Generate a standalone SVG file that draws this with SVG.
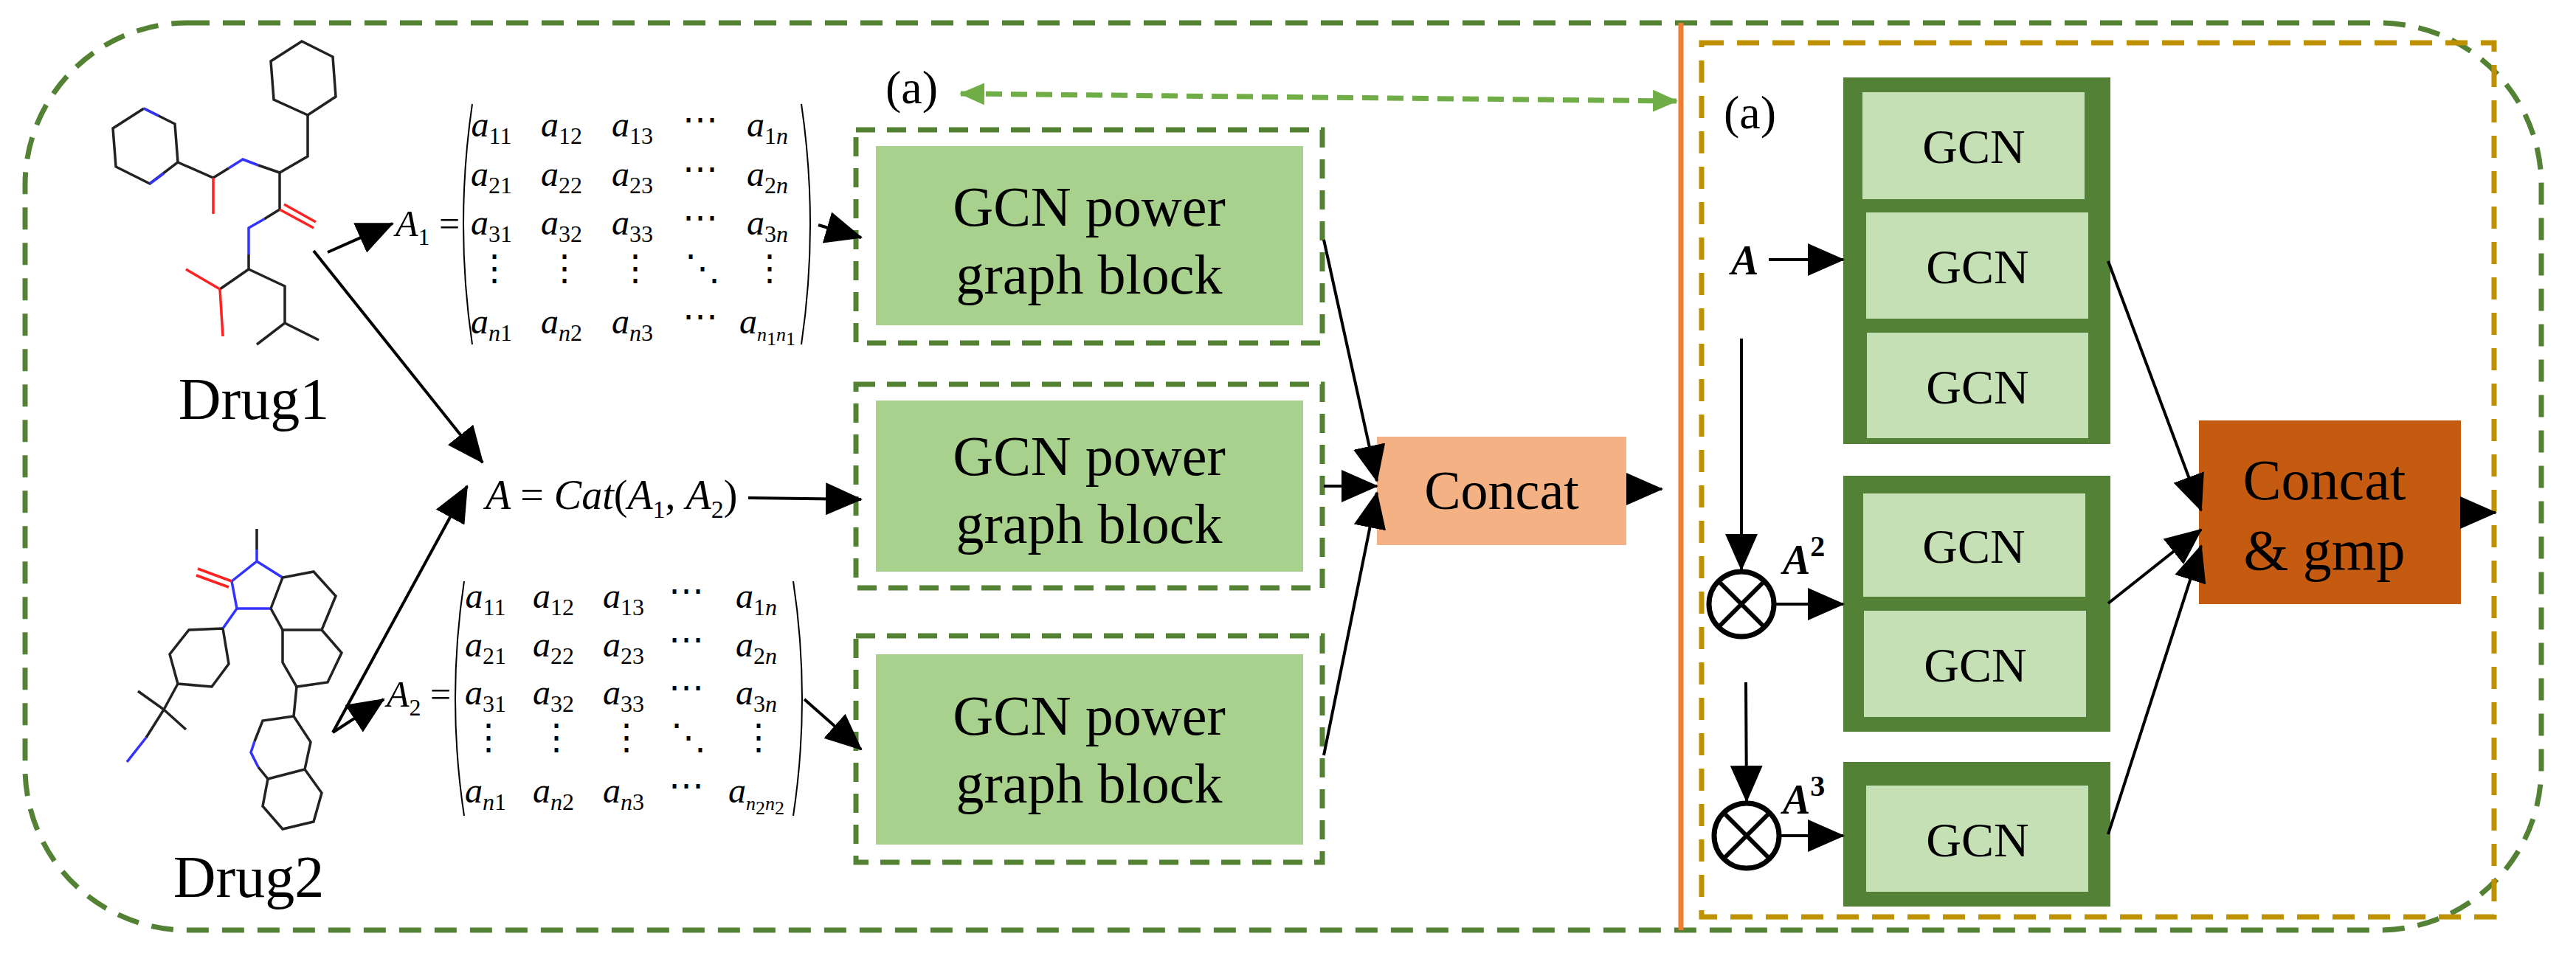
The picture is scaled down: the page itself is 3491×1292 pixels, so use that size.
<svg xmlns="http://www.w3.org/2000/svg" width="3491" height="1292" viewBox="0 0 3491 1292">
<style>
.serif{font-family:"Liberation Serif","Times New Roman",serif;fill:#000}
.it{font-style:italic}
.mol{stroke:#222;stroke-width:3.5;fill:none}
.n{stroke:#3333ff;stroke-width:3.5;fill:none}
.o{stroke:#ff2222;stroke-width:3.5;fill:none}
.dbl{stroke:#548235;stroke-width:7;fill:none;stroke-dasharray:26 16}
.ln{stroke:#000;stroke-width:4;fill:none}
.gcn{fill:#c5e0b4}
.dk{fill:#538135}
</style>
<defs>
<marker id="ah" markerUnits="userSpaceOnUse" markerWidth="50" markerHeight="44" refX="48" refY="22" orient="auto"><path d="M0,0 L50,22 L0,44 Z" fill="#000"/></marker>
<marker id="gh" markerUnits="userSpaceOnUse" markerWidth="34" markerHeight="30" refX="32" refY="15" orient="auto-start-reverse"><path d="M0,0 L34,15 L0,30 Z" fill="#70ad47"/></marker>
</defs>
<rect x="34" y="31" width="3410" height="1230" rx="220" fill="none" stroke="#548235" stroke-width="7" stroke-dasharray="30 18"/>
<line x1="2278" y1="31" x2="2278" y2="1261" stroke="#ed7d31" stroke-width="7"/>
<rect x="2306" y="58" width="1074" height="1185" fill="none" stroke="#bf9000" stroke-width="7" stroke-dasharray="30 18"/>

<g id="drug1">
<polyline class="mol" points="195,147 237,168 241,220 203,249 157,226 153,174 195,147"/>
<line class="n" x1="195" y1="147" x2="215" y2="157"/><line class="n" x1="203" y1="249" x2="222" y2="235"/>
<polyline class="mol" points="241,220 289,241 310,228"/>
<polyline class="n" points="310,228 329,216 350,224"/>
<polyline class="mol" points="350,224 379,234 417,212 417,156"/>
<line class="o" x1="289" y1="241" x2="289" y2="290"/>
<polyline class="mol" points="417,156 455,131 451,77 409,56 367,83 371,135 417,156"/>
<polyline class="mol" points="379,234 379,284 358,297"/>
<polyline class="n" points="358,297 337,309 337,345"/>
<polyline class="mol" points="337,345 337,365 298,392"/>
<line class="o" x1="379" y1="284" x2="425" y2="309"/><line class="o" x1="385" y1="277" x2="428" y2="301"/>
<line class="o" x1="298" y1="392" x2="252" y2="365"/><line class="o" x1="298" y1="392" x2="302" y2="456"/>
<polyline class="mol" points="337,365 386,388 386,438 348,467"/><line class="mol" x1="386" y1="438" x2="432" y2="461"/>
<text class="serif" x="344" y="568" font-size="80" text-anchor="middle">Drug1</text>
</g>

<g id="drug2">
<line class="mol" x1="348" y1="717" x2="348" y2="745"/>
<polyline class="n" points="348,745 348,761 314,788"/><polyline class="n" points="314,788 321,825 367,825"/><line class="n" x1="348" y1="761" x2="383" y2="783"/>
<line class="o" x1="314" y1="788" x2="268" y2="771"/><line class="o" x1="310" y1="796" x2="266" y2="780"/>
<polyline class="mol" points="367,825 383,783 425,775 455,808 436,854 383,854 367,825"/>
<polyline class="mol" points="436,854 463,885 444,925 402,931 383,898 383,854"/>
<line class="n" x1="321" y1="825" x2="302" y2="852"/>
<polyline class="mol" points="302,852 310,900 287,931 241,927 230,887 256,854 302,852"/>
<polyline class="mol" points="241,927 222,962 187,937"/><line class="mol" x1="222" y1="962" x2="252" y2="989"/>
<line class="mol" x1="222" y1="962" x2="198" y2="1000"/><line class="n" x1="198" y1="1000" x2="172" y2="1033"/>
<polyline class="mol" points="402,931 398,971 421,1006 413,1043 363,1056"/>
<polyline class="mol" points="398,971 356,977 345,1005"/><polyline class="n" points="345,1005 340,1020 350,1040"/>
<polyline class="mol" points="350,1040 363,1056 356,1093 383,1124 425,1114 436,1075 413,1043"/>
<text class="serif" x="337" y="1216" font-size="80" text-anchor="middle">Drug2</text>
</g>

<g id="matrix1" class="serif it" font-size="48">
<path d="M640,141 Q616,304 640,467" fill="none" stroke="#000" stroke-width="2"/>
<path d="M1086,141 Q1110,304 1086,467" fill="none" stroke="#000" stroke-width="2"/>
<text x="536" y="320" font-size="50">A<tspan font-size="32" font-style="normal" dy="12">1</tspan><tspan dy="-12" font-style="normal" font-size="50"> =</tspan></text>
<g text-anchor="middle">
<text x="666" y="185">a<tspan font-size="32" font-style="normal" dy="10">11</tspan></text><text x="761" y="185">a<tspan font-size="32" font-style="normal" dy="10">12</tspan></text><text x="857" y="185">a<tspan font-size="32" font-style="normal" dy="10">13</tspan></text><text x="949" y="178" font-style="normal">⋯</text><text x="1040" y="185">a<tspan font-size="32" dy="10"><tspan font-style="normal">1</tspan>n</tspan></text>
<text x="666" y="252">a<tspan font-size="32" font-style="normal" dy="10">21</tspan></text><text x="761" y="252">a<tspan font-size="32" font-style="normal" dy="10">22</tspan></text><text x="857" y="252">a<tspan font-size="32" font-style="normal" dy="10">23</tspan></text><text x="949" y="245" font-style="normal">⋯</text><text x="1040" y="252">a<tspan font-size="32" dy="10"><tspan font-style="normal">2</tspan>n</tspan></text>
<text x="666" y="318">a<tspan font-size="32" font-style="normal" dy="10">31</tspan></text><text x="761" y="318">a<tspan font-size="32" font-style="normal" dy="10">32</tspan></text><text x="857" y="318">a<tspan font-size="32" font-style="normal" dy="10">33</tspan></text><text x="949" y="311" font-style="normal">⋯</text><text x="1040" y="318">a<tspan font-size="32" dy="10"><tspan font-style="normal">3</tspan>n</tspan></text>
<text x="670" y="380" font-style="normal">⋮</text><text x="765" y="380" font-style="normal">⋮</text><text x="861" y="380" font-style="normal">⋮</text><text x="952" y="380" font-style="normal">⋱</text><text x="1043" y="380" font-style="normal">⋮</text>
<text x="666" y="452">a<tspan font-size="32" dy="10">n<tspan font-style="normal">1</tspan></tspan></text><text x="761" y="452">a<tspan font-size="32" dy="10">n<tspan font-style="normal">2</tspan></tspan></text><text x="857" y="452">a<tspan font-size="32" dy="10">n<tspan font-style="normal">3</tspan></tspan></text><text x="949" y="445" font-style="normal">⋯</text><text x="1040" y="452">a<tspan font-size="26" dy="10">n<tspan font-style="normal" dy="6">1</tspan><tspan dy="-6">n</tspan><tspan font-style="normal" dy="6">1</tspan></tspan></text>
</g>
</g>

<g id="catA" class="serif it">
<text x="658" y="690" font-size="56">A <tspan font-style="normal">=</tspan> Cat<tspan font-style="normal">(</tspan>A<tspan font-size="34" font-style="normal" dy="12">1</tspan><tspan dy="-12" font-style="normal">, </tspan>A<tspan font-size="34" font-style="normal" dy="12">2</tspan><tspan dy="-12" font-style="normal">)</tspan></text>
</g>

<g id="matrix2" class="serif it" font-size="48">
<path d="M629,788 Q605,947 629,1106" fill="none" stroke="#000" stroke-width="2"/>
<path d="M1075,788 Q1099,947 1075,1106" fill="none" stroke="#000" stroke-width="2"/>
<text x="524" y="958" font-size="50">A<tspan font-size="32" font-style="normal" dy="12">2</tspan><tspan dy="-12" font-style="normal" font-size="50"> =</tspan></text>
<g text-anchor="middle">
<text x="658" y="824">a<tspan font-size="32" font-style="normal" dy="10">11</tspan></text><text x="750" y="824">a<tspan font-size="32" font-style="normal" dy="10">12</tspan></text><text x="845" y="824">a<tspan font-size="32" font-style="normal" dy="10">13</tspan></text><text x="930" y="817" font-style="normal">⋯</text><text x="1025" y="824">a<tspan font-size="32" dy="10"><tspan font-style="normal">1</tspan>n</tspan></text>
<text x="658" y="890">a<tspan font-size="32" font-style="normal" dy="10">21</tspan></text><text x="750" y="890">a<tspan font-size="32" font-style="normal" dy="10">22</tspan></text><text x="845" y="890">a<tspan font-size="32" font-style="normal" dy="10">23</tspan></text><text x="930" y="883" font-style="normal">⋯</text><text x="1025" y="890">a<tspan font-size="32" dy="10"><tspan font-style="normal">2</tspan>n</tspan></text>
<text x="658" y="955">a<tspan font-size="32" font-style="normal" dy="10">31</tspan></text><text x="750" y="955">a<tspan font-size="32" font-style="normal" dy="10">32</tspan></text><text x="845" y="955">a<tspan font-size="32" font-style="normal" dy="10">33</tspan></text><text x="930" y="948" font-style="normal">⋯</text><text x="1025" y="955">a<tspan font-size="32" dy="10"><tspan font-style="normal">3</tspan>n</tspan></text>
<text x="662" y="1016" font-style="normal">⋮</text><text x="754" y="1016" font-style="normal">⋮</text><text x="849" y="1016" font-style="normal">⋮</text><text x="933" y="1016" font-style="normal">⋱</text><text x="1028" y="1016" font-style="normal">⋮</text>
<text x="658" y="1088">a<tspan font-size="32" dy="10">n<tspan font-style="normal">1</tspan></tspan></text><text x="750" y="1088">a<tspan font-size="32" dy="10">n<tspan font-style="normal">2</tspan></tspan></text><text x="845" y="1088">a<tspan font-size="32" dy="10">n<tspan font-style="normal">3</tspan></tspan></text><text x="930" y="1081" font-style="normal">⋯</text><text x="1025" y="1088">a<tspan font-size="26" dy="10">n<tspan font-style="normal" dy="6">2</tspan><tspan dy="-6">n</tspan><tspan font-style="normal" dy="6">2</tspan></tspan></text>
</g>
</g>

<text class="serif" x="1200" y="140" font-size="64">(a)</text>

<g id="block1"><rect class="dbl" x="1160" y="176" width="632" height="289"/><rect x="1187" y="198" width="579" height="243" fill="#a9d18e"/><text class="serif" x="1476" y="306" font-size="76" text-anchor="middle">GCN power</text><text class="serif" x="1476" y="398" font-size="76" text-anchor="middle">graph block</text></g>
<g id="block2"><rect class="dbl" x="1160" y="521" width="632" height="276"/><rect x="1187" y="543" width="579" height="232" fill="#a9d18e"/><text class="serif" x="1476" y="644" font-size="76" text-anchor="middle">GCN power</text><text class="serif" x="1476" y="736" font-size="76" text-anchor="middle">graph block</text></g>
<g id="block3"><rect class="dbl" x="1160" y="862" width="632" height="307"/><rect x="1187" y="887" width="579" height="258" fill="#a9d18e"/><text class="serif" x="1476" y="996" font-size="76" text-anchor="middle">GCN power</text><text class="serif" x="1476" y="1088" font-size="76" text-anchor="middle">graph block</text></g>
<g id="concat"><rect x="1866" y="592" width="338" height="147" fill="#f4b183"/><text class="serif" x="2035" y="690" font-size="74" text-anchor="middle">Concat</text></g>

<text class="serif" x="2336" y="174" font-size="64">(a)</text>
<g id="stack1"><rect class="dk" x="2498" y="105" width="362" height="497"/>
<rect class="gcn" x="2524" y="125" width="301" height="145"/><rect class="gcn" x="2529" y="288" width="301" height="144"/><rect class="gcn" x="2530" y="451" width="300" height="143"/>
<g class="serif" font-size="66" text-anchor="middle"><text x="2675" y="221">GCN</text><text x="2680" y="384">GCN</text><text x="2680" y="547">GCN</text></g></g>
<g id="stack2"><rect class="dk" x="2498" y="645" width="362" height="347"/>
<rect class="gcn" x="2525" y="669" width="301" height="140"/><rect class="gcn" x="2526" y="828" width="301" height="144"/>
<g class="serif" font-size="66" text-anchor="middle"><text x="2675" y="763">GCN</text><text x="2677" y="924">GCN</text></g></g>
<g id="stack3"><rect class="dk" x="2498" y="1033" width="362" height="196"/>
<rect class="gcn" x="2529" y="1065" width="301" height="144"/>
<g class="serif" font-size="66" text-anchor="middle"><text x="2680" y="1161">GCN</text></g></g>
<g id="concatgmp"><rect x="2980" y="570" width="355" height="249" fill="#c55a11"/><text class="serif" x="3150" y="677" font-size="78" text-anchor="middle">Concat</text><text class="serif" x="3150" y="772" font-size="78" text-anchor="middle">&amp; gmp</text></g>

<g id="ops">
<text class="serif it" x="2346" y="372" font-size="56" font-weight="bold">A</text>
<circle cx="2360" cy="819" r="44" fill="#fff" stroke="#000" stroke-width="7"/><path d="M2330,789 L2390,849 M2390,789 L2330,849" stroke="#000" stroke-width="6"/>
<circle cx="2367" cy="1133" r="44" fill="#fff" stroke="#000" stroke-width="7"/><path d="M2337,1103 L2397,1163 M2397,1103 L2337,1163" stroke="#000" stroke-width="6"/>
<text class="serif it" x="2416" y="778" font-size="56" font-weight="bold">A<tspan font-style="normal" font-size="40" dy="-24">2</tspan></text>
<text class="serif it" x="2416" y="1103" font-size="56" font-weight="bold">A<tspan font-style="normal" font-size="40" dy="-24">3</tspan></text>
</g>

<g id="connectors">
<line x1="1302" y1="127" x2="2272" y2="137" stroke="#70ad47" stroke-width="7" stroke-dasharray="22 12" marker-start="url(#gh)" marker-end="url(#gh)"/>
<line class="ln" x1="444" y1="342" x2="532" y2="303" marker-end="url(#ah)"/>
<line class="ln" x1="425" y1="340" x2="654" y2="627" marker-end="url(#ah)"/>
<line class="ln" x1="451" y1="993" x2="633" y2="659" marker-end="url(#ah)"/>
<line class="ln" x1="451" y1="993" x2="520" y2="948" marker-end="url(#ah)"/>
<line class="ln" x1="1109" y1="305" x2="1167" y2="322" marker-end="url(#ah)"/>
<line class="ln" x1="1014" y1="675" x2="1167" y2="677" marker-end="url(#ah)"/>
<line class="ln" x1="1090" y1="948" x2="1167" y2="1016" marker-end="url(#ah)"/>
<line class="ln" x1="1794" y1="325" x2="1866" y2="652" stroke-width="3" marker-end="url(#ah)"/>
<line class="ln" x1="1794" y1="659" x2="1866" y2="659" stroke-width="3" marker-end="url(#ah)"/>
<line class="ln" x1="1794" y1="1024" x2="1866" y2="668" stroke-width="3" marker-end="url(#ah)"/>
<line class="ln" x1="2204" y1="663" x2="2252" y2="663" marker-end="url(#ah)"/>
<line class="ln" x1="2397" y1="352" x2="2498" y2="352" marker-end="url(#ah)"/>
<line class="ln" x1="2360" y1="459" x2="2360" y2="772" marker-end="url(#ah)"/>
<line class="ln" x1="2406" y1="819" x2="2498" y2="819" marker-end="url(#ah)"/>
<line class="ln" x1="2366" y1="925" x2="2367" y2="1086" marker-end="url(#ah)"/>
<line class="ln" x1="2413" y1="1133" x2="2498" y2="1133" marker-end="url(#ah)"/>
<line class="ln" x1="2857" y1="354" x2="2983" y2="692" stroke-width="3" marker-end="url(#ah)"/>
<line class="ln" x1="2857" y1="818" x2="2983" y2="718" stroke-width="3" marker-end="url(#ah)"/>
<line class="ln" x1="2857" y1="1131" x2="2983" y2="740" stroke-width="3" marker-end="url(#ah)"/>
<line class="ln" x1="3335" y1="695" x2="3382" y2="695" marker-end="url(#ah)"/>
</g>
</svg>
